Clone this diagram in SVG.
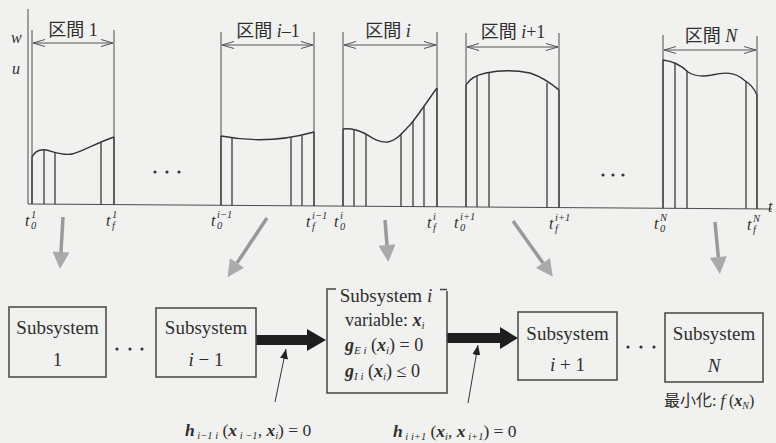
<svg xmlns="http://www.w3.org/2000/svg" width="776" height="443" viewBox="0 0 776 443" font-family="'Liberation Serif','Noto Sans CJK JP',serif">
<defs>
<style>
text{font-family:'Liberation Serif','Noto Sans CJK JP',serif;fill:#2e2e2e}
.ln{stroke:#3a3a3a;stroke-width:0.9;fill:none}
.bar{stroke:#3a3a3a;stroke-width:1.3}
.crv{stroke:#333;stroke-width:1.4;fill:none}
.box{fill:none;stroke:#444;stroke-width:1.5}
.dim{stroke:#555;stroke-width:1;fill:none;marker-start:url(#open);marker-end:url(#open)}
.gray{stroke:#999;stroke-width:3.5;fill:none;marker-end:url(#gh)}
.thin{stroke:#333;stroke-width:1;fill:none;marker-end:url(#th)}
.it{font-style:italic}
.bi{font-style:italic;font-weight:bold}
.st{font-size:19px}
.tl{font-size:16px;font-style:italic}
.ts{font-size:10.5px;font-style:italic}
</style>
<marker id="open" viewBox="0 0 12 8" refX="12" refY="4" markerWidth="12" markerHeight="8" markerUnits="userSpaceOnUse" orient="auto-start-reverse">
<path d="M0,0.5 L12,4 L0,7.5" fill="none" stroke="#555" stroke-width="1"/>
</marker>
<marker id="gh" viewBox="0 0 10 10" refX="0" refY="5" markerWidth="18" markerHeight="17" markerUnits="userSpaceOnUse" orient="auto">
<path d="M0,0 L10,5 L0,10 z" fill="#aaa"/>
</marker>
<marker id="th" viewBox="0 0 10 8" refX="10" refY="4" markerWidth="10" markerHeight="8" markerUnits="userSpaceOnUse" orient="auto">
<path d="M0,0 L10,4 L0,8 z" fill="#222"/>
</marker>
</defs>
<rect width="776" height="443" fill="#f1f1ef"/>

<g id="axes">
<line class="ln" x1="28" y1="9" x2="28" y2="204" stroke-width="1.3"/>
<line class="ln" x1="28" y1="204" x2="772" y2="209" stroke-width="1.3"/>
<text x="11" y="43" class="it" font-size="16">w</text>
<text x="12" y="74" class="it" font-size="16">u</text>
<text x="768" y="212" class="it" font-size="16">t</text>
<circle cx="155" cy="172" r="1.6" fill="#333"/><circle cx="167" cy="172" r="1.6" fill="#333"/><circle cx="179" cy="172" r="1.6" fill="#333"/>
<circle cx="603" cy="175" r="1.6" fill="#333"/><circle cx="613" cy="175" r="1.6" fill="#333"/><circle cx="623" cy="175" r="1.6" fill="#333"/>
</g>

<g id="interval1">
<line class="ln" x1="32" y1="30" x2="32" y2="204"/>
<line class="ln" x1="114" y1="30" x2="114" y2="204.6"/>
<line class="dim" x1="33" y1="43" x2="113" y2="43"/>
<text x="73" y="36" text-anchor="middle" font-size="18">区間 1</text>
<path class="crv" d="M32,157 C35,151 40,149 46,150 S62,156 72,154 S96,143 114,137"/>
<line class="bar" x1="32" y1="157" x2="32" y2="204"/>
<line class="bar" x1="44" y1="150" x2="44" y2="204.1"/>
<line class="bar" x1="55" y1="152" x2="55" y2="204.2"/>
<line class="bar" x1="101" y1="142" x2="101" y2="204.5"/>
<line class="bar" x1="114" y1="137" x2="114" y2="204.6"/>
</g>

<g id="interval_im1">
<line class="ln" x1="221" y1="32" x2="221" y2="205.3"/>
<line class="ln" x1="314" y1="32" x2="314" y2="205.9"/>
<line class="dim" x1="222" y1="45" x2="313" y2="45"/>
<text x="268" y="37" text-anchor="middle" font-size="18">区間 <tspan class="it">i</tspan>–1</text>
<path class="crv" d="M221,136 Q268,145 314,132"/>
<line class="bar" x1="221" y1="136" x2="221" y2="205.3"/>
<line class="bar" x1="232" y1="137.5" x2="232" y2="205.4"/>
<line class="bar" x1="291" y1="137.5" x2="291" y2="205.8"/>
<line class="bar" x1="302" y1="135.5" x2="302" y2="205.8"/>
<line class="bar" x1="314" y1="132" x2="314" y2="205.9"/>
</g>

<g id="interval_i">
<line class="ln" x1="343" y1="32" x2="343" y2="206.1"/>
<line class="ln" x1="437" y1="32" x2="437" y2="206.7"/>
<line class="dim" x1="344" y1="45" x2="436" y2="45"/>
<text x="388" y="37" text-anchor="middle" font-size="18">区間 <tspan class="it">i</tspan></text>
<path class="crv" d="M343,129 C352,128 358,130 366,134 C374,139 380,143 388,142 C396,141 402,133 410,125 C420,113 428,100 437,88"/>
<line class="bar" x1="343" y1="129" x2="343" y2="206.1"/>
<line class="bar" x1="354" y1="129" x2="354" y2="206.2"/>
<line class="bar" x1="366" y1="134" x2="366" y2="206.3"/>
<line class="bar" x1="401" y1="134" x2="401" y2="206.5"/>
<line class="bar" x1="413" y1="121" x2="413" y2="206.6"/>
<line class="bar" x1="424" y1="107" x2="424" y2="206.7"/>
<line class="bar" x1="437" y1="88" x2="437" y2="206.7"/>
</g>

<g id="interval_ip1">
<line class="ln" x1="466" y1="33" x2="466" y2="206.9"/>
<line class="ln" x1="559" y1="33" x2="559" y2="207.6"/>
<line class="dim" x1="467" y1="47" x2="558" y2="47"/>
<text x="513" y="38" text-anchor="middle" font-size="18">区間 <tspan class="it">i</tspan>+1</text>
<path class="crv" d="M466,85 C470,78 476,75 486,73 C500,70 515,70 530,73 C545,78 553,85 559,90"/>
<line class="bar" x1="466" y1="85" x2="466" y2="206.9"/>
<line class="bar" x1="477" y1="76" x2="477" y2="207"/>
<line class="bar" x1="489" y1="73" x2="489" y2="207.1"/>
<line class="bar" x1="547" y1="83" x2="547" y2="207.5"/>
<line class="bar" x1="559" y1="90" x2="559" y2="207.6"/>
</g>

<g id="intervalN">
<line class="ln" x1="663" y1="35" x2="663" y2="208.3"/>
<line class="ln" x1="757" y1="36" x2="757" y2="208.9"/>
<line class="dim" x1="664" y1="50" x2="756" y2="50"/>
<text x="711" y="42" text-anchor="middle" font-size="18">区間 <tspan class="it">N</tspan></text>
<path class="crv" d="M663,60 C672,61 680,64 688,72 C694,76 702,77 712,75 C725,72 735,72 744,80 C752,85 755,90 757,95"/>
<line class="bar" x1="663" y1="60" x2="663" y2="208.3"/>
<line class="bar" x1="675" y1="62.5" x2="675" y2="208.3"/>
<line class="bar" x1="687" y1="71" x2="687" y2="208.4"/>
<line class="bar" x1="746" y1="81" x2="746" y2="208.8"/>
<line class="bar" x1="757" y1="95" x2="757" y2="208.9"/>
</g>

<g id="tlabels">
<text x="25" y="226" class="tl">t</text><text x="31" y="218" class="ts">1</text><text x="31" y="229" class="ts">0</text>
<text x="106" y="226" class="tl">t</text><text x="112" y="218" class="ts">1</text><text x="112" y="229" class="ts">f</text>
<text x="211" y="226" class="tl">t</text><text x="217" y="218" class="ts">i−1</text><text x="217" y="229" class="ts">0</text>
<text x="306" y="227" class="tl">t</text><text x="312" y="219" class="ts">i−1</text><text x="312" y="230" class="ts">f</text>
<text x="334" y="227" class="tl">t</text><text x="340" y="219" class="ts">i</text><text x="340" y="230" class="ts">0</text>
<text x="427" y="228" class="tl">t</text><text x="433" y="220" class="ts">i</text><text x="433" y="231" class="ts">f</text>
<text x="454" y="228" class="tl">t</text><text x="460" y="220" class="ts">i+1</text><text x="460" y="231" class="ts">0</text>
<text x="549" y="229" class="tl">t</text><text x="555" y="221" class="ts">i+1</text><text x="555" y="232" class="ts">f</text>
<text x="654" y="229" class="tl">t</text><text x="660" y="221" class="ts">N</text><text x="660" y="232" class="ts">0</text>
<text x="747" y="230" class="tl">t</text><text x="753" y="222" class="ts">N</text><text x="753" y="233" class="ts">f</text>
</g>

<g id="connectors">
<line class="gray" x1="63" y1="217" x2="61" y2="252"/>
<line class="gray" x1="267" y1="218" x2="237" y2="263"/>
<line class="gray" x1="385" y1="220" x2="387" y2="245"/>
<line class="gray" x1="513" y1="221" x2="543" y2="263"/>
<line class="gray" x1="715" y1="222" x2="718.3" y2="257"/>
<polygon points="256,335 307,335 307,329 326,340 307,351 307,345 256,345" fill="#1e1e1e"/>
<polygon points="447,333 500,333 500,327 518,338 500,349 500,343 447,343" fill="#1e1e1e"/>
<line class="thin" x1="275" y1="402" x2="286" y2="349"/>
<line class="thin" x1="468" y1="403" x2="478" y2="345"/>
</g>

<g id="sub1">
<rect class="box" x="9" y="307" width="97" height="70"/>
<text x="57.5" y="334" text-anchor="middle" class="st">Subsystem</text>
<text x="57.5" y="366" text-anchor="middle" class="st">1</text>
</g>
<g id="dots1">
<circle cx="117" cy="349" r="1.6" fill="#333"/><circle cx="130" cy="349" r="1.6" fill="#333"/><circle cx="142" cy="349" r="1.6" fill="#333"/>
</g>
<g id="sub_im1">
<rect class="box" x="156" y="308" width="100" height="69"/>
<text x="206" y="334" text-anchor="middle" class="st">Subsystem</text>
<text x="206" y="366" text-anchor="middle" class="st"><tspan class="it">i</tspan> − 1</text>
</g>

<g id="sub_i">
<path class="box" d="M336,289 H327 V393 H447 V291 M440,289.5 H447"/>
<text x="386" y="302" text-anchor="middle" class="st">Subsystem <tspan class="it">i</tspan></text>
<text x="345" y="326" font-size="18">variable: <tspan class="bi">x</tspan><tspan class="it" font-size="11" dy="3">i</tspan></text>
<text x="345" y="351" font-size="18"><tspan class="bi">g</tspan><tspan class="it" font-size="11" dy="3">E i</tspan><tspan dy="-3"> (</tspan><tspan class="bi">x</tspan><tspan class="it" font-size="11" dy="3">i</tspan><tspan dy="-3">) = 0</tspan></text>
<text x="345" y="377" font-size="18"><tspan class="bi">g</tspan><tspan class="it" font-size="11" dy="3">I i</tspan><tspan dy="-3"> (</tspan><tspan class="bi">x</tspan><tspan class="it" font-size="11" dy="3">i</tspan><tspan dy="-3">) ≤ 0</tspan></text>
</g>

<g id="sub_ip1">
<rect class="box" x="518" y="312" width="99" height="68"/>
<text x="567.5" y="340" text-anchor="middle" class="st">Subsystem</text>
<text x="567.5" y="371" text-anchor="middle" class="st"><tspan class="it">i</tspan> + 1</text>
</g>
<g id="dots2">
<circle cx="628" cy="347" r="1.6" fill="#333"/><circle cx="641" cy="347" r="1.6" fill="#333"/><circle cx="654" cy="347" r="1.6" fill="#333"/>
</g>
<g id="subN">
<rect class="box" x="665" y="313" width="98" height="69"/>
<text x="714" y="340" text-anchor="middle" class="st">Subsystem</text>
<text x="714" y="372" text-anchor="middle" class="st it">N</text>
<text x="664" y="406" font-size="16">最小化: <tspan class="it">f</tspan> (<tspan class="bi">x</tspan><tspan class="it" font-size="10" dy="3">N</tspan><tspan dy="-3">)</tspan></text>
</g>

<g id="constraints">
<text x="185" y="436" font-size="17.5"><tspan class="bi">h</tspan><tspan class="it" font-size="10.5" dy="3"> i−1 i</tspan><tspan dy="-3"> (</tspan><tspan class="bi">x</tspan><tspan class="it" font-size="10.5" dy="3"> i −1</tspan><tspan dy="-3">, </tspan><tspan class="bi">x</tspan><tspan class="it" font-size="10.5" dy="3">i</tspan><tspan dy="-3">) = 0</tspan></text>
<text x="393" y="437" font-size="17.5"><tspan class="bi">h</tspan><tspan class="it" font-size="10.5" dy="3"> i i+1</tspan><tspan dy="-3"> (</tspan><tspan class="bi">x</tspan><tspan class="it" font-size="10.5" dy="3">i</tspan><tspan dy="-3">, </tspan><tspan class="bi">x</tspan><tspan class="it" font-size="10.5" dy="3"> i+1</tspan><tspan dy="-3">) = 0</tspan></text>
</g>
</svg>
